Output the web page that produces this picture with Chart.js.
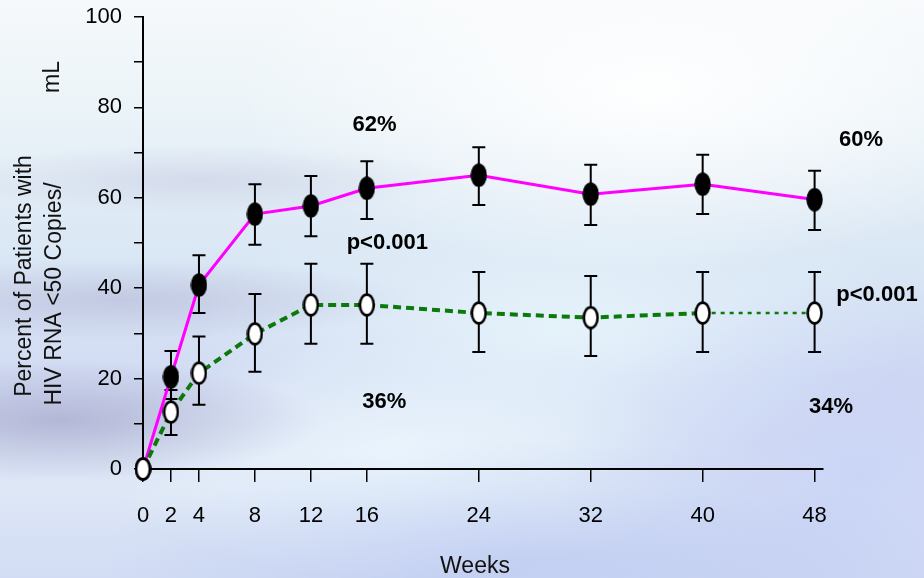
<!DOCTYPE html>
<html>
<head>
<meta charset="utf-8">
<script src="https://cdn.jsdelivr.net/npm/chart.js@4/dist/chart.umd.min.js"></script>
<style>
  html, body { margin:0; padding:0; }
  body {
    width:924px; height:578px; overflow:hidden;
    background:
      radial-gradient(ellipse 260px 60px at 60px 420px, rgba(150,150,190,0.55), rgba(150,150,190,0) 100%),
      radial-gradient(ellipse 300px 40px at 120px 300px, rgba(170,170,205,0.45), rgba(170,170,205,0) 100%),
      radial-gradient(ellipse 260px 35px at 200px 180px, rgba(185,185,215,0.35), rgba(185,185,215,0) 100%),
      radial-gradient(ellipse 420px 120px at 520px 560px, rgba(180,195,240,0.55), rgba(180,195,240,0) 100%),
      radial-gradient(ellipse 300px 200px at 860px 480px, rgba(190,200,245,0.6), rgba(190,200,245,0) 100%),
      radial-gradient(ellipse 420px 180px at 650px 90px, rgba(255,255,255,0.95), rgba(255,255,255,0) 100%),
      radial-gradient(ellipse 360px 140px at 560px 330px, rgba(232,246,252,0.85), rgba(232,246,252,0) 100%),
      radial-gradient(ellipse 300px 120px at 400px 460px, rgba(240,250,255,0.8), rgba(240,250,255,0) 100%),
      linear-gradient(180deg, #f6f9fb 0%, #eaf3f8 20%, #d9e6f4 45%, #d2dcf3 65%, #dde7f6 85%, #d2dcf4 100%);
  }
  #wrap { position:absolute; left:0; top:0; width:924px; height:578px; }
</style>
</head>
<body>
<div id="wrap"><canvas id="c" width="924" height="578"></canvas></div>
<script>
// ---- data ----
const weeks = [0, 2, 4, 8, 12, 16, 24, 32, 40, 48];
const tickWeeks = [0, 2, 4, 8, 12, 16, 24, 32, 40, 48];
const filledValues = [0, 20.4, 40.7, 56.4, 58.2, 62.1, 65.0, 60.8, 63.0, 59.6];
const filledUpper  = [0, 26.1, 47.3, 63.0, 64.8, 68.1, 71.2, 67.3, 69.5, 66.0];
const filledLower  = [0, 15.5, 34.5, 49.6, 51.5, 55.3, 58.4, 54.0, 56.4, 52.9];
const openValues   = [0, 12.6, 21.2, 29.9, 36.3, 36.3, 34.5, 33.5, 34.5, 34.5];
const openUpper    = [0, 17.5, 29.3, 38.7, 45.4, 45.4, 43.6, 42.7, 43.6, 43.6];
const openLower    = [0, 7.5, 14.2, 21.5, 27.7, 27.7, 25.9, 25.0, 25.9, 25.9];
const yTickValues  = [0, 20, 40, 60, 80, 100];
const annoText = ['62%', 'p<0.001', '36%', '60%', 'p<0.001', '34%'];
const annoX    = [16.54, 17.46, 17.25, 51.32, 52.46, 49.18];
const annoY    = [76.1, 50.0, 14.8, 72.8, 38.5, 13.7];

const FONT = '"Liberation Sans", Arial, sans-serif';

function ellipseMarker(fill, stroke, lw) {
  const w = 17, h = 24;
  const cv = document.createElement('canvas');
  cv.width = w; cv.height = h;
  const g = cv.getContext('2d');
  g.beginPath();
  g.ellipse(w/2, h/2, w/2 - lw/2 - 0.3, h/2 - lw/2 - 0.3, 0, 0, Math.PI*2);
  g.fillStyle = fill; g.fill();
  g.lineWidth = lw; g.strokeStyle = stroke; g.stroke();
  return cv;
}
const filledMarker = ellipseMarker('#000', '#000', 1.5);
const openMarker = ellipseMarker('#fff', '#000', 2.6);

const errorBars = {
  id: 'errorBars',
  beforeDatasetsDraw(chart) {
    const ctx = chart.ctx, xs = chart.scales.x, ys = chart.scales.y;
    const sets = [[filledUpper, filledLower], [openUpper, openLower]];
    ctx.save();
    ctx.strokeStyle = '#000';
    ctx.lineWidth = 2;
    sets.forEach(([up, lo]) => {
      weeks.forEach((w, i) => {
        if (up[i] === lo[i]) return;
        const x = xs.getPixelForValue(w);
        const yt = ys.getPixelForValue(up[i]);
        const yb = ys.getPixelForValue(lo[i]);
        ctx.beginPath();
        ctx.moveTo(x, yt); ctx.lineTo(x, yb);
        ctx.moveTo(x - 6.5, yt); ctx.lineTo(x + 6.5, yt);
        ctx.moveTo(x - 6.5, yb); ctx.lineTo(x + 6.5, yb);
        ctx.stroke();
      });
    });
    ctx.restore();
  },
  afterDatasetsDraw(chart) {
    const ctx = chart.ctx, xs = chart.scales.x, ys = chart.scales.y;
    ctx.save();
    ctx.fillStyle = '#000';
    ctx.font = 'bold 22px ' + FONT;
    ctx.textAlign = 'center';
    ctx.textBaseline = 'middle';
    annoText.forEach((t, i) => {
      ctx.fillText(t, xs.getPixelForValue(annoX[i]), ys.getPixelForValue(annoY[i]));
    });
    // axis titles
    ctx.font = '23px ' + FONT;
    ctx.fillStyle = '#111';
    ctx.fillText('Weeks', 475, 567);
    const rot = (txt, x, y) => {
      ctx.save(); ctx.translate(x, y); ctx.rotate(-Math.PI/2);
      ctx.fillText(txt, 0, 0); ctx.restore();
    };
    rot('Percent of Patients with', 25, 276);
    rot('HIV RNA <50 Copies/', 55, 294);
    rot('mL', 53, 77);
    ctx.restore();
  }
};

new Chart(document.getElementById('c'), {
  type: 'line',
  data: {
    datasets: [
      {
        label: 'filled',
        data: weeks.map((w, i) => ({x: w, y: filledValues[i]})),
        borderColor: '#ff00ff',
        borderWidth: 3,
        pointStyle: filledMarker,
        tension: 0,
        clip: false,
        order: 1
      },
      {
        label: 'open',
        data: weeks.map((w, i) => ({x: w, y: openValues[i]})),
        borderColor: '#0b7a0b',
        borderWidth: 4,
        borderDash: [8, 5],
        pointStyle: openMarker,
        tension: 0,
        clip: false,
        order: 0,
        segment: {
          borderWidth: c => c.p1DataIndex === weeks.length - 1 ? 2.5 : 4,
          borderDash: c => c.p1DataIndex === weeks.length - 1 ? [4, 5] : [8, 5]
        }
      }
    ]
  },
  options: {
    responsive: false,
    animation: false,
    events: [],
    layout: { padding: { top: 17, right: 101, left: 0, bottom: 0 } },
    plugins: { legend: { display: false }, tooltip: { enabled: false } },
    scales: {
      x: {
        type: 'linear',
        min: 0, max: 48.6,
        afterBuildTicks: s => { s.ticks = tickWeeks.map(v => ({value: v})); },
        afterFit: s => { s.height = 109; s.paddingLeft = 0; s.paddingRight = 0; },
        border: { color: '#000', width: 2 },
        grid: { drawOnChartArea: false, drawTicks: true, tickLength: 13, color: '#000', lineWidth: 1.5 },
        ticks: { color: '#000', padding: 21, font: { family: FONT, size: 22 }, maxRotation: 0, autoSkip: false }
      },
      y: {
        min: 0, max: 100,
        afterBuildTicks: s => { s.ticks = [0,10,20,30,40,50,60,70,80,90,100].map(v => ({value: v})); },
        afterFit: s => { s.width = 143; s.paddingTop = 0; s.paddingBottom = 0; },
        border: { color: '#000', width: 2 },
        grid: { drawOnChartArea: false, drawTicks: true, tickLength: 9, color: '#000', lineWidth: 1.5 },
        ticks: {
          color: '#000', padding: 12, font: { family: FONT, size: 22 },
          callback: v => yTickValues.includes(v) ? String(v) : ''
        }
      }
    }
  },
  plugins: [errorBars]
});
</script>
</body>
</html>
